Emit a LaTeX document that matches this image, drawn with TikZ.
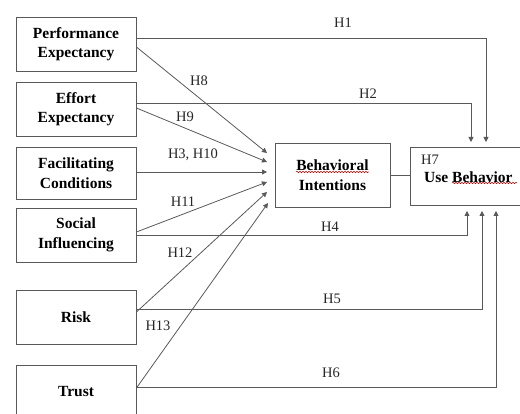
\documentclass[tikz,border=0pt]{standalone}
\usepackage{fontspec}
\setmainfont{Liberation Serif}
\usetikzlibrary{arrows.meta,decorations.pathmorphing}
\begin{document}
\begin{tikzpicture}[x=1pt,y=-1pt,
  box/.style={draw=black!65, line width=0.9pt, minimum width=120pt, minimum height=54pt, align=center, font=\fontsize{15.5}{19.5}\selectfont\bfseries, inner sep=0pt},
  conn/.style={draw=black!65, line width=0.8pt},
  arr/.style={conn, -{Triangle[length=5pt,width=5pt]}},
  lab/.style={font=\fontsize{14.5}{17}\selectfont, inner sep=0pt, text=black!85},
  squig/.style={draw=red!75!black, line width=0.5pt, decorate, decoration={snake, amplitude=0.7pt, segment length=3pt}},
]
\useasboundingbox (0,0) rectangle (520,414);
% left boxes
\node[box] (pe) at (76,44) {Performance\\Expectancy};
\node[box] (ee) at (76,109) {Effort\\Expectancy};
\node[box, minimum height=52pt] (fc) at (76,173) {Facilitating\\Conditions};
\node[box] (si) at (76,235) {Social\\Influencing};
\node[box] (risk) at (76,317) {Risk};
\node[box] (trust) at (76,392) {Trust};
% middle and right boxes
\node[box, minimum width=115pt, minimum height=64pt] (bi) at (332.5,175) {Behavioral\\Intentions};
\node[draw=black!65, line width=0.9pt, minimum width=130pt, minimum height=58pt, inner sep=0pt] (ub) at (475,176) {};
\node[lab, anchor=west] (h7) at (421,160) {H7};
\node[anchor=west, inner sep=0pt, font=\fontsize{15.5}{19.5}\selectfont\bfseries] (ubt) at (424,177) {Use Behavior};
% spell-check squiggles
\draw[squig] (296,172) -- (369,172);
\draw[squig] (452,183) -- (517,183);
% arrow ends
\coordinate (t1) at (267,153);
\coordinate (t2) at (267,162);
\coordinate (t3) at (267,172);
\coordinate (t4) at (267,182);
\coordinate (t5) at (267,192);
\coordinate (t6) at (268,203);
\coordinate (a1) at (486,142);
\coordinate (a2) at (471,142);
\coordinate (a4) at (467,211);
\coordinate (a5) at (482,211);
\coordinate (a6) at (496,211);
% direct paths to use behavior
\draw[arr] ([yshift=6pt]pe.east) -| (a1);
\draw[arr] ([yshift=6pt]ee.east) -| (a2);
\draw[arr] (si.east) -| (a4);
\draw[arr] ([yshift=8pt]risk.east) -| (a5);
\draw[arr] ([yshift=5pt]trust.east) -| (a6);
% paths to behavioral intentions
\draw[arr] ([yshift=-3pt]pe.east) -- (t1);
\draw[arr] ([yshift=1pt]ee.east) -- (t2);
\draw[arr] ([yshift=1pt]fc.east) -- (t3);
\draw[arr] ([yshift=3pt]si.east) -- (t4);
\draw[arr] ([yshift=5pt]risk.east) -- (t5);
\draw[arr] ([yshift=4pt]trust.east) -- (t6);
% BI to UB
\draw[conn] (bi.east) -- (bi.east -| ub.west);
% labels
\node[lab] (l1) at (343,23) {H1};
\node[lab] (l2) at (368,94) {H2};
\node[lab] (l8) at (199,81) {H8};
\node[lab] (l9) at (185,117) {H9};
\node[lab] (l310) at (193,155) {H3, H10};
\node[lab] (l11) at (183,202) {H11};
\node[lab] (l12) at (180,253) {H12};
\node[lab] (l13) at (158,326) {H13};
\node[lab] (l4) at (330,227) {H4};
\node[lab] (l5) at (332,299) {H5};
\node[lab] (l6) at (331,373) {H6};
\end{tikzpicture}
\end{document}
